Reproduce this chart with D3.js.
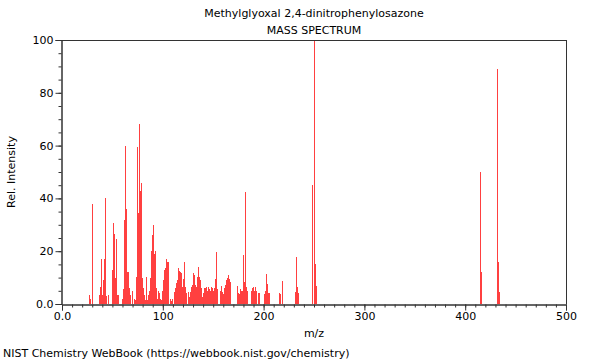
<!DOCTYPE html>
<html><head><meta charset="utf-8">
<script src="https://cdn.jsdelivr.net/npm/d3@7/dist/d3.min.js"></script>
<style>
body{margin:0;background:#fff;}
svg text{font-family:"DejaVu Sans",sans-serif;}
</style></head>
<body><svg id="c" width="600" height="360"></svg>
<script>
const title = "Methylglyoxal 2,4-dinitrophenylosazone";
const subtitle = "MASS SPECTRUM";
const xLabel = "m/z";
const yLabel = "Rel. Intensity";
const footer = "NIST Chemistry WebBook (https://webbook.nist.gov/chemistry)";
const xTicks = [0,100,200,300,400,500];
const xTickLabels = ["0.0","100","200","300","400","500"];
const yTicks = [0,20,40,60,80,100];
const yTickLabels = ["0.0","20","40","60","80","100"];

const mz = [27,28,30,37,38,39,40,41,42,43,44,46,50,51,52,53,54,55,56,60,61,62,63,64,65,66,67,68,70,72,73,74,75,76,77,78,79,80,81,82,83,84,85,86,87,88,89,90,91,92,93,94,95,96,97,98,99,100,101,102,103,104,105,106,108,109,110,112,113,114,115,116,117,118,119,120,121,122,123,124,125,126,127,128,129,130,131,132,133,134,135,136,137,138,139,140,141,142,143,144,145,146,147,148,149,150,151,152,153,154,157,158,159,160,161,162,163,164,165,166,167,174,175,176,177,178,179,180,181,182,183,184,188,189,190,191,192,193,195,196,201,202,203,204,205,206,216,217,219,232,233,234,235,249,250,251,252,415,416,432,433,434];
const intensity = [3.4,2,38,3.4,6.6,17,3.4,9,17,40,3,3.5,13,30.5,26.5,10,24.5,3.5,3.5,2,5.6,32,60,36,12,12,6,3.5,5,2,1.5,10.4,59.6,34.6,68,42.8,45.7,9.8,6,3.5,1.5,10.4,1.5,3.5,5,10,20,26,30,19,20,6,2,5,4,2,1.5,5,9,13,13.5,17,16,16,1.9,1,2,4.7,6,7.8,9,13.8,12.5,12.2,11.6,6.5,9.3,16,6.5,4,4.7,2.8,4.7,6.3,7.2,11.6,11,7.2,6.5,10.4,14,10.4,9,6,2.8,4,6,6,6.5,5,6.5,5.5,5,6.5,6,5,6,9.3,19.8,5.5,5,6.8,4.7,3.8,6,7.2,9,10,11,9.6,8.3,6.8,4,3.8,5.5,5,5,18.5,8.3,42.3,6.5,5,5,6,6.5,5,6.3,5,4,4,3.7,5,11.4,7.6,4,4,4,3.7,8.8,4.5,17.7,6.3,4,45,100,15,7,50,12,89,16,4.5];

const svg = d3.select("#c");
const L = 62, R = 566, T = 40, B = 304;
const x = d3.scaleLinear().domain([0,500]).range([L,R]);
const y = d3.scaleLinear().domain([0,100]).range([B,T]);

// bars
svg.append("g").attr("shape-rendering","crispEdges")
  .selectAll("rect").data(mz.map((m,i)=>({m, v:intensity[i]}))).join("rect")
  .attr("x", d => x(d.m) - 0.5)
  .attr("width", 1)
  .attr("y", d => y(d.v))
  .attr("height", d => B - y(d.v))
  .attr("fill", "#ff4040");

// frame top & right
svg.append("line").attr("x1",L).attr("x2",R+0.5).attr("y1",T+0.5).attr("y2",T+0.5).attr("stroke","#333");
svg.append("line").attr("x1",R+0.5).attr("x2",R+0.5).attr("y1",T).attr("y2",B).attr("stroke","#333");

// minor ticks
const gxm = svg.append("g").attr("transform",`translate(0,${B+0.5})`)
  .call(d3.axisBottom(x).tickValues(d3.range(0,501,10)).tickSize(3).tickFormat(""));
const gym = svg.append("g").attr("transform",`translate(${L-0.5},0)`)
  .call(d3.axisLeft(y).tickValues(d3.range(0,101,5)).tickSize(3).tickFormat(""));
// major ticks
const gx = svg.append("g").attr("transform",`translate(0,${B+0.5})`)
  .call(d3.axisBottom(x).tickValues(xTicks).tickSize(6).tickPadding(2).tickFormat((d,i)=>xTickLabels[i]));
const gy = svg.append("g").attr("transform",`translate(${L-0.5},0)`)
  .call(d3.axisLeft(y).tickValues(yTicks).tickSize(6).tickPadding(2).tickFormat((d,i)=>yTickLabels[i]));
[gxm,gym,gx,gy].forEach(g=>{
  g.selectAll("path").attr("stroke","#333");
  g.selectAll("line").attr("stroke","#333");
  g.selectAll("text").attr("font-family","DejaVu Sans").attr("font-size",11).attr("fill","#000");
});

const cx = (L+R)/2;
svg.append("text").attr("x",cx).attr("y",17).attr("text-anchor","middle").attr("font-size",11).text(title);
svg.append("text").attr("x",cx).attr("y",34).attr("text-anchor","middle").attr("font-size",11).text(subtitle);
svg.append("text").attr("x",cx).attr("y",337).attr("text-anchor","middle").attr("font-size",11).text(xLabel);
svg.append("text").attr("transform",`translate(15,${(T+B)/2}) rotate(-90)`).attr("text-anchor","middle").attr("font-size",11).text(yLabel);
svg.append("text").attr("x",3).attr("y",357).attr("font-size",11).text(footer);
</script></body></html>
